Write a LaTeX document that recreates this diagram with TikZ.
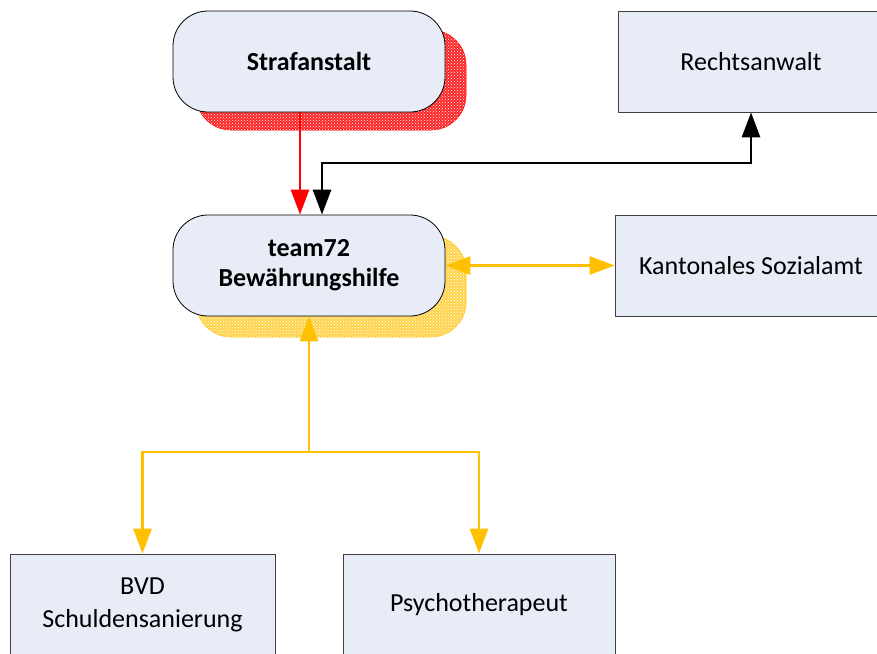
\documentclass[tikz,border=0pt]{standalone}
\usepackage{fontspec}
\setmainfont{Carlito}
\usetikzlibrary{arrows.meta,patterns,calc}
\definecolor{boxfill}{HTML}{E7ECF7}
\definecolor{gold}{HTML}{FFC000}
\definecolor{boxline}{HTML}{404040}
\begin{document}
\begin{tikzpicture}[x=1pt,y=-1pt,
  txt/.style={font=\fontsize{26}{33}\selectfont, align=center},
  btxt/.style={font=\fontsize{26}{30}\selectfont\bfseries, align=center},
  roundbox/.style={btxt, draw=black, fill=boxfill, rounded corners=35pt, minimum width=272pt, minimum height=101pt, inner sep=0pt, line width=0.8pt},
  rectbox/.style={txt, draw=boxline, fill=boxfill, minimum width=266pt, minimum height=101pt, inner sep=0pt, line width=0.8pt},
  redshadow/.style={draw=red, fill=red!85, rounded corners=35pt, line width=0.6pt},
  yellowshadow/.style={draw=gold, fill=gold!70, rounded corners=35pt, line width=0.6pt},
  dots/.style={pattern=crosshatch dots, pattern color=white},
  mytip/.tip={Triangle[length=25pt,width=18pt]},
  conn/.style={line width=2.8pt}
]
\useasboundingbox (0,0) rectangle (877,653);
\clip (0,0) rectangle (877,653);
% shadows
\path[redshadow] (196,30) rectangle (466,130);
\path[dots, rounded corners=35pt] (196,30) rectangle (466,130);
\path[yellowshadow] (196,236) rectangle (466,337);
\path[dots, rounded corners=35pt] (196,236) rectangle (466,337);
% nodes
\node[roundbox] (straf) at (309,61.5) {Strafanstalt};
\node[roundbox] (team) at (309,265.5) {team72\\Bewährungshilfe};
\node[rectbox, minimum width=266pt] (anwalt) at (751,61.5) {Rechtsanwalt};
\node[rectbox, minimum width=272pt] (sozial) at (751,265.5) {Kantonales Sozialamt};
\node[rectbox, minimum width=265pt, minimum height=102pt] (bvd) at (142.5,605) {BVD\\Schuldensanierung};
\node[rectbox, minimum width=272pt, minimum height=102pt] (psy) at (479,605) {Psychotherapeut};
% connectors
\coordinate (bend) at (322,163);
\coordinate (j) at (309,452);
\draw[conn, red, -{mytip}] ($(straf.south)+(-9,0)$) -- ($(team.north)+(-9,0)$);
\draw[conn, black, {mytip}-{mytip}] ($(team.north)+(13,0)$) -- (bend) -| (anwalt.south);
\draw[conn, gold, {mytip}-{mytip}] (team.east) -- (sozial.west);
\draw[conn, gold, -{mytip}] (j) -- (team.south);
\draw[conn, gold, {mytip}-{mytip}] (bvd.north) |- (j) -| (psy.north);
\end{tikzpicture}
\end{document}
